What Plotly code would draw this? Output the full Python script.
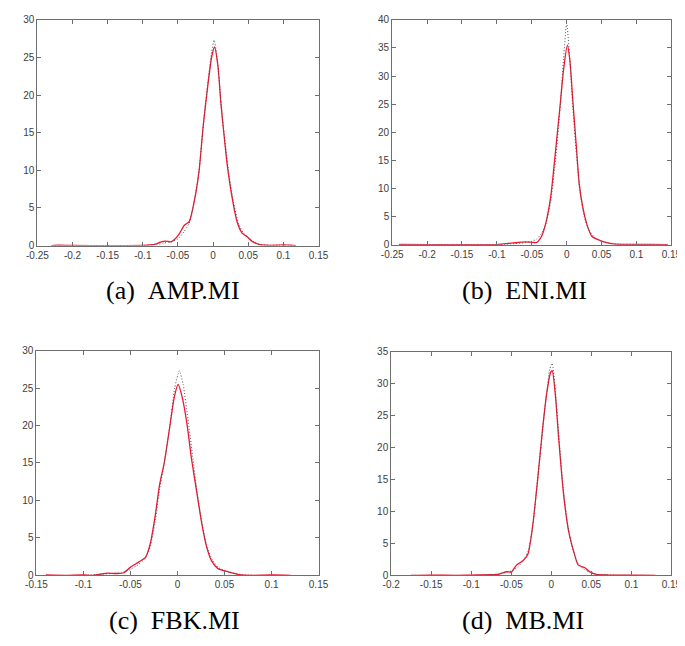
import plotly.graph_objects as go

# ---------------- data ----------------
captions = ["(a)\u2002AMP.MI", "(b)\u2002ENI.MI", "(c)\u2002FBK.MI", "(d)\u2002MB.MI"]

xa_red = [-0.23, -0.22, -0.2, -0.15, -0.1, -0.09, -0.082, -0.075, -0.068, -0.06, -0.055, -0.048, -0.041, -0.034,
          -0.027, -0.020, -0.014, -0.007, -0.002, 0.002, 0.007, 0.011, 0.016, 0.020, 0.027, 0.034, 0.041, 0.048,
          0.055, 0.064, 0.075, 0.09, 0.1, 0.11, 0.118]
ya_red = [0.0, 0.05, 0.02, 0.0, 0.02, 0.08, 0.2, 0.45, 0.6, 0.5, 0.8, 1.6, 2.7, 3.2, 5.8, 9.9, 16.0, 21.7, 25.1,
          26.4, 23.8, 19.0, 14.3, 10.8, 6.4, 3.2, 1.7, 1.2, 0.6, 0.2, 0.05, 0.05, 0.1, 0.05, 0.0]
xa_blk = [-0.23, -0.15, -0.1, -0.08, -0.07, -0.06, -0.05, -0.041, -0.034, -0.027, -0.020, -0.014, -0.007, -0.002,
          0.0015, 0.005, 0.009, 0.013, 0.018, 0.023, 0.029, 0.036, 0.043, 0.05, 0.058, 0.066, 0.08, 0.1, 0.118]
ya_blk = [0.0, 0.0, 0.02, 0.15, 0.35, 0.5, 0.9, 1.9, 3.0, 5.8, 10.0, 16.0, 22.0, 25.8, 27.3, 25.5, 21.5, 17.0,
          13.0, 9.2, 5.8, 3.0, 1.7, 1.1, 0.5, 0.15, 0.05, 0.05, 0.0]

xb_red = [-0.24, -0.2, -0.15, -0.1, -0.077, -0.059, -0.043, -0.036, -0.030, -0.023, -0.016, -0.009, -0.0045, 0.001,
          0.0045, 0.009, 0.014, 0.018, 0.023, 0.030, 0.036, 0.045, 0.059, 0.07, 0.09, 0.12, 0.145]
yb_red = [0.05, 0.0, 0.0, 0.0, 0.3, 0.5, 0.4, 1.5, 3.8, 8.4, 16.6, 25.3, 31.1, 35.5, 32.9, 25.3, 17.2, 10.8, 6.7,
          3.2, 1.5, 0.9, 0.3, 0.1, 0.05, 0.05, 0.0]
xb_blk = [-0.24, -0.15, -0.1, -0.08, -0.06, -0.05, -0.043, -0.036, -0.030, -0.023, -0.016, -0.009, -0.0045, 0.0,
          0.0045, 0.009, 0.014, 0.019, 0.025, 0.032, 0.04, 0.05, 0.06, 0.075, 0.1, 0.145]
yb_blk = [0.0, 0.0, 0.0, 0.1, 0.35, 0.6, 1.0, 2.0, 3.6, 7.6, 15.0, 25.0, 33.0, 39.4, 33.0, 24.0, 16.0, 9.5, 5.0,
          2.6, 1.3, 0.6, 0.25, 0.1, 0.03, 0.0]

xc_red = [-0.14, -0.12, -0.1, -0.09, -0.08, -0.075, -0.065, -0.057, -0.050, -0.041, -0.034, -0.029, -0.024, -0.019,
          -0.014, -0.0086, -0.0034, 0.0007, 0.005, 0.010, 0.015, 0.021, 0.026, 0.031, 0.036, 0.043, 0.053, 0.062,
          0.068, 0.08, 0.1, 0.12]
yc_red = [0.05, 0.0, 0.05, 0.0, 0.2, 0.3, 0.25, 0.35, 1.1, 1.8, 2.4, 4.2, 7.7, 12.1, 15.1, 19.5, 23.8, 25.5, 23.8,
          20.3, 15.5, 10.7, 6.8, 3.8, 2.0, 0.9, 0.5, 0.2, 0.05, 0.0, 0.05, 0.0]
xc_blk = [-0.14, -0.1, -0.08, -0.07, -0.06, -0.05, -0.042, -0.035, -0.029, -0.024, -0.019, -0.014, -0.008, -0.003,
          0.002, 0.006, 0.011, 0.016, 0.021, 0.026, 0.031, 0.037, 0.044, 0.053, 0.062, 0.07, 0.09, 0.12]
yc_blk = [0.0, 0.0, 0.15, 0.25, 0.35, 0.8, 1.4, 2.2, 3.8, 7.0, 11.5, 15.0, 20.0, 25.0, 27.3, 25.5, 21.0, 16.0,
          11.0, 7.0, 4.0, 2.1, 1.0, 0.55, 0.25, 0.05, 0.0, 0.0]

xd_red = [-0.175, -0.15, -0.12, -0.1, -0.075, -0.065, -0.0555, -0.05, -0.0435, -0.035, -0.029, -0.023, -0.017,
          -0.011, -0.0057, -0.0008, 0.0012, 0.0053, 0.0093, 0.0154, 0.0215, 0.0276, 0.0337, 0.042, 0.048, 0.056,
          0.072, 0.1, 0.13]
yd_red = [0.0, 0.05, 0.0, 0.05, 0.1, 0.2, 0.57, 0.5, 1.6, 2.35, 3.4, 8.0, 15.1, 22.8, 28.5, 31.8, 32.0, 27.9, 21.3,
          12.6, 7.0, 3.9, 1.6, 1.2, 0.56, 0.15, 0.05, 0.03, 0.0]
xd_blk = [-0.175, -0.1, -0.075, -0.065, -0.055, -0.048, -0.042, -0.035, -0.029, -0.023, -0.017, -0.011, -0.006,
          -0.002, 0.001, 0.005, 0.009, 0.015, 0.021, 0.027, 0.033, 0.04, 0.048, 0.056, 0.065, 0.08, 0.13]
yd_blk = [0.0, 0.0, 0.1, 0.25, 0.5, 0.8, 1.3, 2.3, 3.8, 8.0, 15.0, 22.5, 28.5, 32.2, 33.2, 29.0, 22.5, 13.5, 7.5,
          4.0, 2.0, 1.0, 0.5, 0.2, 0.1, 0.03, 0.0]

x_ticks_a = [-0.25, -0.2, -0.15, -0.1, -0.05, 0, 0.05, 0.1, 0.15]
x_ticks_b = [-0.25, -0.2, -0.15, -0.1, -0.05, 0, 0.05, 0.1, 0.15]
x_ticks_c = [-0.15, -0.1, -0.05, 0, 0.05, 0.1, 0.15]
x_ticks_d = [-0.2, -0.15, -0.1, -0.05, 0, 0.05, 0.1, 0.15]
y_ticks_a = [0, 5, 10, 15, 20, 25, 30]
y_ticks_b = [0, 5, 10, 15, 20, 25, 30, 35, 40]
y_ticks_c = [0, 5, 10, 15, 20, 25, 30]
y_ticks_d = [0, 5, 10, 15, 20, 25, 30, 35]

# ---------------- layout ----------------
W, H = 685, 646
# pixel boxes of each plot area: (left, right, top, bottom)
boxes = [(19, 309, 6, 236), (385, 673, 6, 235), (18, 309, 343, 572), (384, 673, 344, 572)]
cap_pos = [(159, 282), (521, 282), (160, 618), (520, 618)]

panels = [
    (xa_red, ya_red, xa_blk, ya_blk, x_ticks_a, y_ticks_a),
    (xb_red, yb_red, xb_blk, yb_blk, x_ticks_b, y_ticks_b),
    (xc_red, yc_red, xc_blk, yc_blk, x_ticks_c, y_ticks_c),
    (xd_red, yd_red, xd_blk, yd_blk, x_ticks_d, y_ticks_d),
]

fig = go.Figure()
layout = dict(width=W, height=H, margin=dict(l=0, r=0, t=0, b=0),
              paper_bgcolor="white", plot_bgcolor="white", showlegend=False)

axis_common = dict(showline=True, linecolor="#6e6e6e", linewidth=1, mirror="ticks", ticks="inside",
                   ticklen=4, tickcolor="#6e6e6e", showgrid=False, zeroline=False,
                   tickfont=dict(family="Liberation Sans", size=10, color="#404040"))

annotations = []
for i, (xr, yr, xk, yk, xt, yt) in enumerate(panels):
    n = "" if i == 0 else str(i + 1)
    l, r, t, b = boxes[i]
    fig.add_trace(go.Scatter(x=xr, y=yr, mode="lines",
                             line=dict(color="#f01530", width=1.3, shape="spline", smoothing=0.6),
                             xaxis="x" + n, yaxis="y" + n))
    fig.add_trace(go.Scatter(x=xk, y=yk, mode="lines",
                             line=dict(color="#555555", width=1, dash="1px,2px", shape="spline", smoothing=0.6),
                             xaxis="x" + n, yaxis="y" + n))
    layout["xaxis" + n] = dict(axis_common, domain=[l / W, r / W], range=[xt[0], xt[-1]],
                               tickvals=xt, ticktext=[f"{v:g}" for v in xt], anchor="y" + n)
    layout["yaxis" + n] = dict(axis_common, domain=[(H - b) / H, (H - t) / H], range=[yt[0], yt[-1]],
                               tickvals=yt, ticktext=[f"{v:g}" for v in yt], anchor="x" + n)
    cx, cy = cap_pos[i]
    annotations.append(dict(text=captions[i], x=cx / W, y=(H - cy) / H, xref="paper", yref="paper",
                            xanchor="center", yanchor="middle", showarrow=False,
                            font=dict(family="Liberation Serif", size=26, color="black")))

layout["annotations"] = annotations
fig.update_layout(**layout)
fig.write_html("out.html")
